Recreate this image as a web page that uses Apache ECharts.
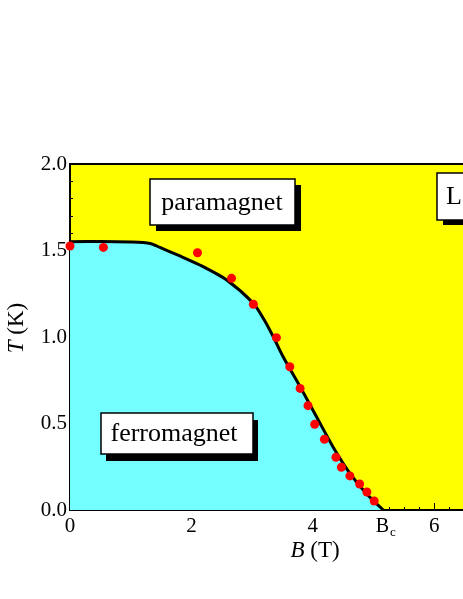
<!DOCTYPE html>
<html>
<head>
<meta charset="utf-8">
<script src="https://cdn.jsdelivr.net/npm/echarts@6/dist/echarts.min.js"></script>
<style>html,body{margin:0;padding:0;background:#fff}#c{width:463px;height:599px}</style>
</head>
<body>
<div id="c"></div>
<script>
// Phase boundary (line) B (T), T (K)
const boundaryB = [0, 0.5, 1.0, 1.32, 1.48, 1.8, 2.14, 2.58, 3.02, 3.2, 3.35, 3.51, 3.79, 4.06, 4.33, 4.61, 4.88, 5.16];
const boundaryT = [1.551, 1.552, 1.549, 1.541, 1.518, 1.47, 1.416, 1.33, 1.195, 1.098, 1.0, 0.886, 0.713, 0.539, 0.366, 0.212, 0.096, 0.0];
// Measured points
const pointB = [0, 0.55, 2.10, 2.66, 3.02, 3.40, 3.62, 3.79, 3.92, 4.03, 4.19, 4.38, 4.47, 4.61, 4.77, 4.89, 5.01];
const pointT = [1.526, 1.518, 1.487, 1.339, 1.189, 0.996, 0.828, 0.703, 0.603, 0.495, 0.409, 0.305, 0.247, 0.197, 0.150, 0.104, 0.052];
const xTicks = [0, 2, 4, 6];
const yTicks = ['0.0', '0.5', '1.0', '1.5', '2.0'];
const criticalField = 5.2;

const FONT = '"Liberation Serif", "Times New Roman", serif';
const chart = echarts.init(document.getElementById('c'));

chart.setOption({
  animation: false,
  grid: {
    left: 70, top: 164, height: 346, width: 425,
    outerBoundsMode: 'none', containLabel: false,
    show: true, backgroundColor: '#ffff00', borderColor: '#000', borderWidth: 2
  },
  xAxis: {
    type: 'value', min: 0, max: 7, interval: 2,
    axisLine: { show: true, lineStyle: { color: '#000', width: 2 } },
    axisTick: { show: true, inside: true, length: 7, lineStyle: { color: '#000', width: 1 } },
    minorTick: { show: true, splitNumber: 8, length: 3, lineStyle: { color: '#000', width: 1 } },
    splitLine: { show: false },
    axisLabel: {
      color: '#000', fontFamily: FONT, fontSize: 21, margin: 6,
      formatter: v => xTicks.indexOf(v) >= 0 ? String(v) : ''
    }
  },
  yAxis: {
    type: 'value', min: 0, max: 2, interval: 0.5,
    axisLine: { show: true, lineStyle: { color: '#000', width: 2 } },
    axisTick: { show: true, inside: true, length: 7, lineStyle: { color: '#000', width: 1 } },
    minorTick: { show: true, splitNumber: 5, length: 3, lineStyle: { color: '#000', width: 1 } },
    splitLine: { show: false },
    axisLabel: {
      color: '#000', fontFamily: FONT, fontSize: 21, margin: 3,
      formatter: v => yTicks[Math.round(v / 0.5)]
    }
  },
  series: [
    {
      type: 'line',
      data: boundaryB.map((b, i) => [b, boundaryT[i]]),
      smooth: 0.25,
      symbol: 'none',
      lineStyle: { color: '#000', width: 3 },
      areaStyle: { color: '#73ffff', opacity: 1, origin: 'start' },
      z: 2
    },
    {
      type: 'scatter',
      data: pointB.map((b, i) => [b, pointT[i]]),
      symbol: 'circle',
      symbolSize: 9,
      itemStyle: { color: '#ff0000', opacity: 1 },
      clip: false,
      z: 3
    },
    {
      type: 'scatter',
      data: [[criticalField, 0]],
      symbolSize: 1,
      itemStyle: { color: 'rgba(0,0,0,0)' },
      silent: true,
      clip: false,
      z: 4,
      label: {
        show: true, position: 'bottom', distance: 4,
        color: '#000', opacity: 1,
        formatter: '{b|B}{s|c}',
        rich: {
          b: { fontFamily: FONT, fontSize: 20, color: '#000', lineHeight: 22, verticalAlign: 'bottom' },
          s: { fontFamily: FONT, fontSize: 13, color: '#000', lineHeight: 22, verticalAlign: 'bottom', padding: [0, 0, -3, 1] }
        }
      }
    }
  ],
  graphic: [
    // paramagnet
    { type: 'rect', shape: { x: 156, y: 185, width: 145, height: 46 }, style: { fill: '#000' }, z: 10 },
    { type: 'rect', shape: { x: 150, y: 179, width: 145, height: 46 }, style: { fill: '#fff', stroke: '#000', lineWidth: 1.5 }, z: 11 },
    { type: 'text', x: 222, y: 203, style: { text: 'paramagnet', font: '26px ' + FONT, fill: '#000', align: 'center', verticalAlign: 'middle' }, z: 12 },
    // ferromagnet
    { type: 'rect', shape: { x: 106, y: 420, width: 152, height: 41 }, style: { fill: '#000' }, z: 10 },
    { type: 'rect', shape: { x: 101, y: 413, width: 152, height: 41 }, style: { fill: '#fff', stroke: '#000', lineWidth: 1.5 }, z: 11 },
    { type: 'text', x: 174, y: 434, style: { text: 'ferromagnet', font: '26px ' + FONT, fill: '#000', align: 'center', verticalAlign: 'middle' }, z: 12 },
    // L
    { type: 'rect', shape: { x: 443, y: 179, width: 60, height: 46 }, style: { fill: '#000' }, z: 10 },
    { type: 'rect', shape: { x: 437, y: 173, width: 60, height: 47 }, style: { fill: '#fff', stroke: '#000', lineWidth: 1.5 }, z: 11 },
    { type: 'text', x: 446, y: 197, style: { text: 'L', font: '26px ' + FONT, fill: '#000', align: 'left', verticalAlign: 'middle' }, z: 12 },
    // axis titles
    { type: 'text', x: 315, y: 551, style: { text: '{i|B} (T)', font: '23px ' + FONT, fill: '#000', align: 'center', verticalAlign: 'middle', rich: { i: { fontStyle: 'italic', fontFamily: FONT, fontSize: 23 } } }, z: 12 },
    { type: 'text', x: 17, y: 328, rotation: Math.PI / 2, style: { text: '{i|T} (K)', font: '23px ' + FONT, fill: '#000', align: 'center', verticalAlign: 'middle', rich: { i: { fontStyle: 'italic', fontFamily: FONT, fontSize: 23 } } }, z: 12 }
  ]
});
</script>
</body>
</html>
